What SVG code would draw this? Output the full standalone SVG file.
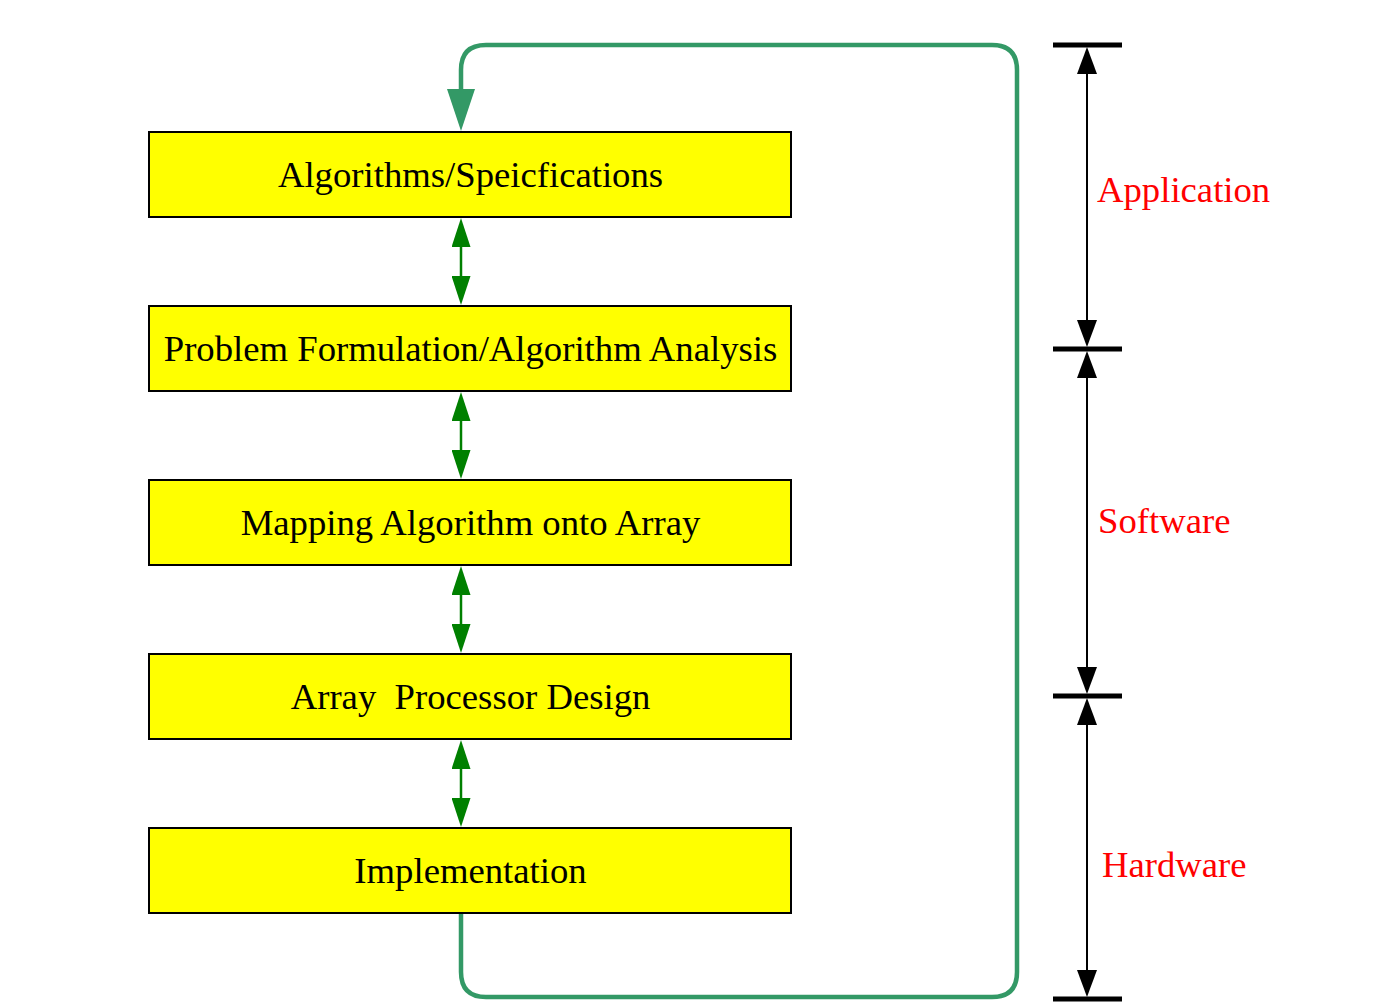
<svg xmlns="http://www.w3.org/2000/svg" width="1387" height="1002" viewBox="0 0 1387 1002">
  <style>
    .box { fill: #ffff00; stroke: #000000; stroke-width: 2; }
    .label { font-family: "Liberation Serif", "Times New Roman", serif; font-size: 36.7px; fill: #000000; text-anchor: middle; white-space: pre; }
    .side { font-family: "Liberation Serif", "Times New Roman", serif; font-size: 36.7px; fill: #ff0000; }
    .link { stroke: #008000; stroke-width: 2.5; fill: none; }
    .loop { stroke: #339966; stroke-width: 4.5; fill: none; }
    .dim { stroke: #000000; stroke-width: 2; fill: none; }
    .tick { stroke: #000000; stroke-width: 5; }
  </style>
  <defs>
    <!-- arrowheads: base sits on the path end, tip points away from it -->
    <marker id="head-green" markerUnits="userSpaceOnUse" markerWidth="29" markerHeight="19" refX="0" refY="9.5" orient="auto-start-reverse">
      <path d="M0,0 L29,9.5 L0,19 Z" fill="#008000"/>
    </marker>
    <marker id="head-loop" markerUnits="userSpaceOnUse" markerWidth="42" markerHeight="28" refX="0" refY="14" orient="auto">
      <path d="M0,0 L42,14 L0,28 Z" fill="#339966"/>
    </marker>
    <marker id="head-dim" markerUnits="userSpaceOnUse" markerWidth="27" markerHeight="20" refX="0" refY="10" orient="auto-start-reverse">
      <path d="M0,0 L27,10 L0,20 Z" fill="#000000"/>
    </marker>
  </defs>

  <rect width="1387" height="1002" fill="#ffffff"/>

  <!-- design flow stages -->
  <g id="node-algorithms">
    <rect class="box" x="149" y="132" width="642" height="85"/>
    <text class="label" x="470.5" y="186.5">Algorithms/Speicfications</text>
  </g>
  <g id="node-formulation">
    <rect class="box" x="149" y="306" width="642" height="85"/>
    <text class="label" x="470.5" y="360.5">Problem Formulation/Algorithm Analysis</text>
  </g>
  <g id="node-mapping">
    <rect class="box" x="149" y="480" width="642" height="85"/>
    <text class="label" x="470.5" y="534.5">Mapping Algorithm onto Array</text>
  </g>
  <g id="node-processor">
    <rect class="box" x="149" y="654" width="642" height="85"/>
    <text class="label" x="470.5" y="708.5" xml:space="preserve">Array  Processor Design</text>
  </g>
  <g id="node-implementation">
    <rect class="box" x="149" y="828" width="642" height="85"/>
    <text class="label" x="470.5" y="882.5">Implementation</text>
  </g>

  <!-- connectors between stages and the feedback loop -->
  <g id="connectors">
    <line class="link" x1="461" y1="247" x2="461" y2="276" marker-start="url(#head-green)" marker-end="url(#head-green)"/>
    <line class="link" x1="461" y1="421" x2="461" y2="450" marker-start="url(#head-green)" marker-end="url(#head-green)"/>
    <line class="link" x1="461" y1="595" x2="461" y2="624" marker-start="url(#head-green)" marker-end="url(#head-green)"/>
    <line class="link" x1="461" y1="769" x2="461" y2="798" marker-start="url(#head-green)" marker-end="url(#head-green)"/>
    <path class="loop" d="M461,914 V972 Q461,997 486,997 H992 Q1017,997 1017,972 V70 Q1017,45 992,45 H486 Q461,45 461,70 V89" marker-end="url(#head-loop)"/>
  </g>

  <!-- level scale on the right -->
  <g id="scale">
    <line class="tick" x1="1053" y1="45" x2="1122" y2="45"/>
    <line class="tick" x1="1053" y1="349" x2="1122" y2="349"/>
    <line class="tick" x1="1053" y1="696" x2="1122" y2="696"/>
    <line class="tick" x1="1053" y1="999" x2="1122" y2="999"/>
    <line class="dim" x1="1087" y1="74" x2="1087" y2="320" marker-start="url(#head-dim)" marker-end="url(#head-dim)"/>
    <line class="dim" x1="1087" y1="378" x2="1087" y2="667" marker-start="url(#head-dim)" marker-end="url(#head-dim)"/>
    <line class="dim" x1="1087" y1="725" x2="1087" y2="970" marker-start="url(#head-dim)" marker-end="url(#head-dim)"/>
    <text class="side" x="1097" y="202">Application</text>
    <text class="side" x="1098" y="533">Software</text>
    <text class="side" x="1102" y="877">Hardware</text>
  </g>
</svg>
